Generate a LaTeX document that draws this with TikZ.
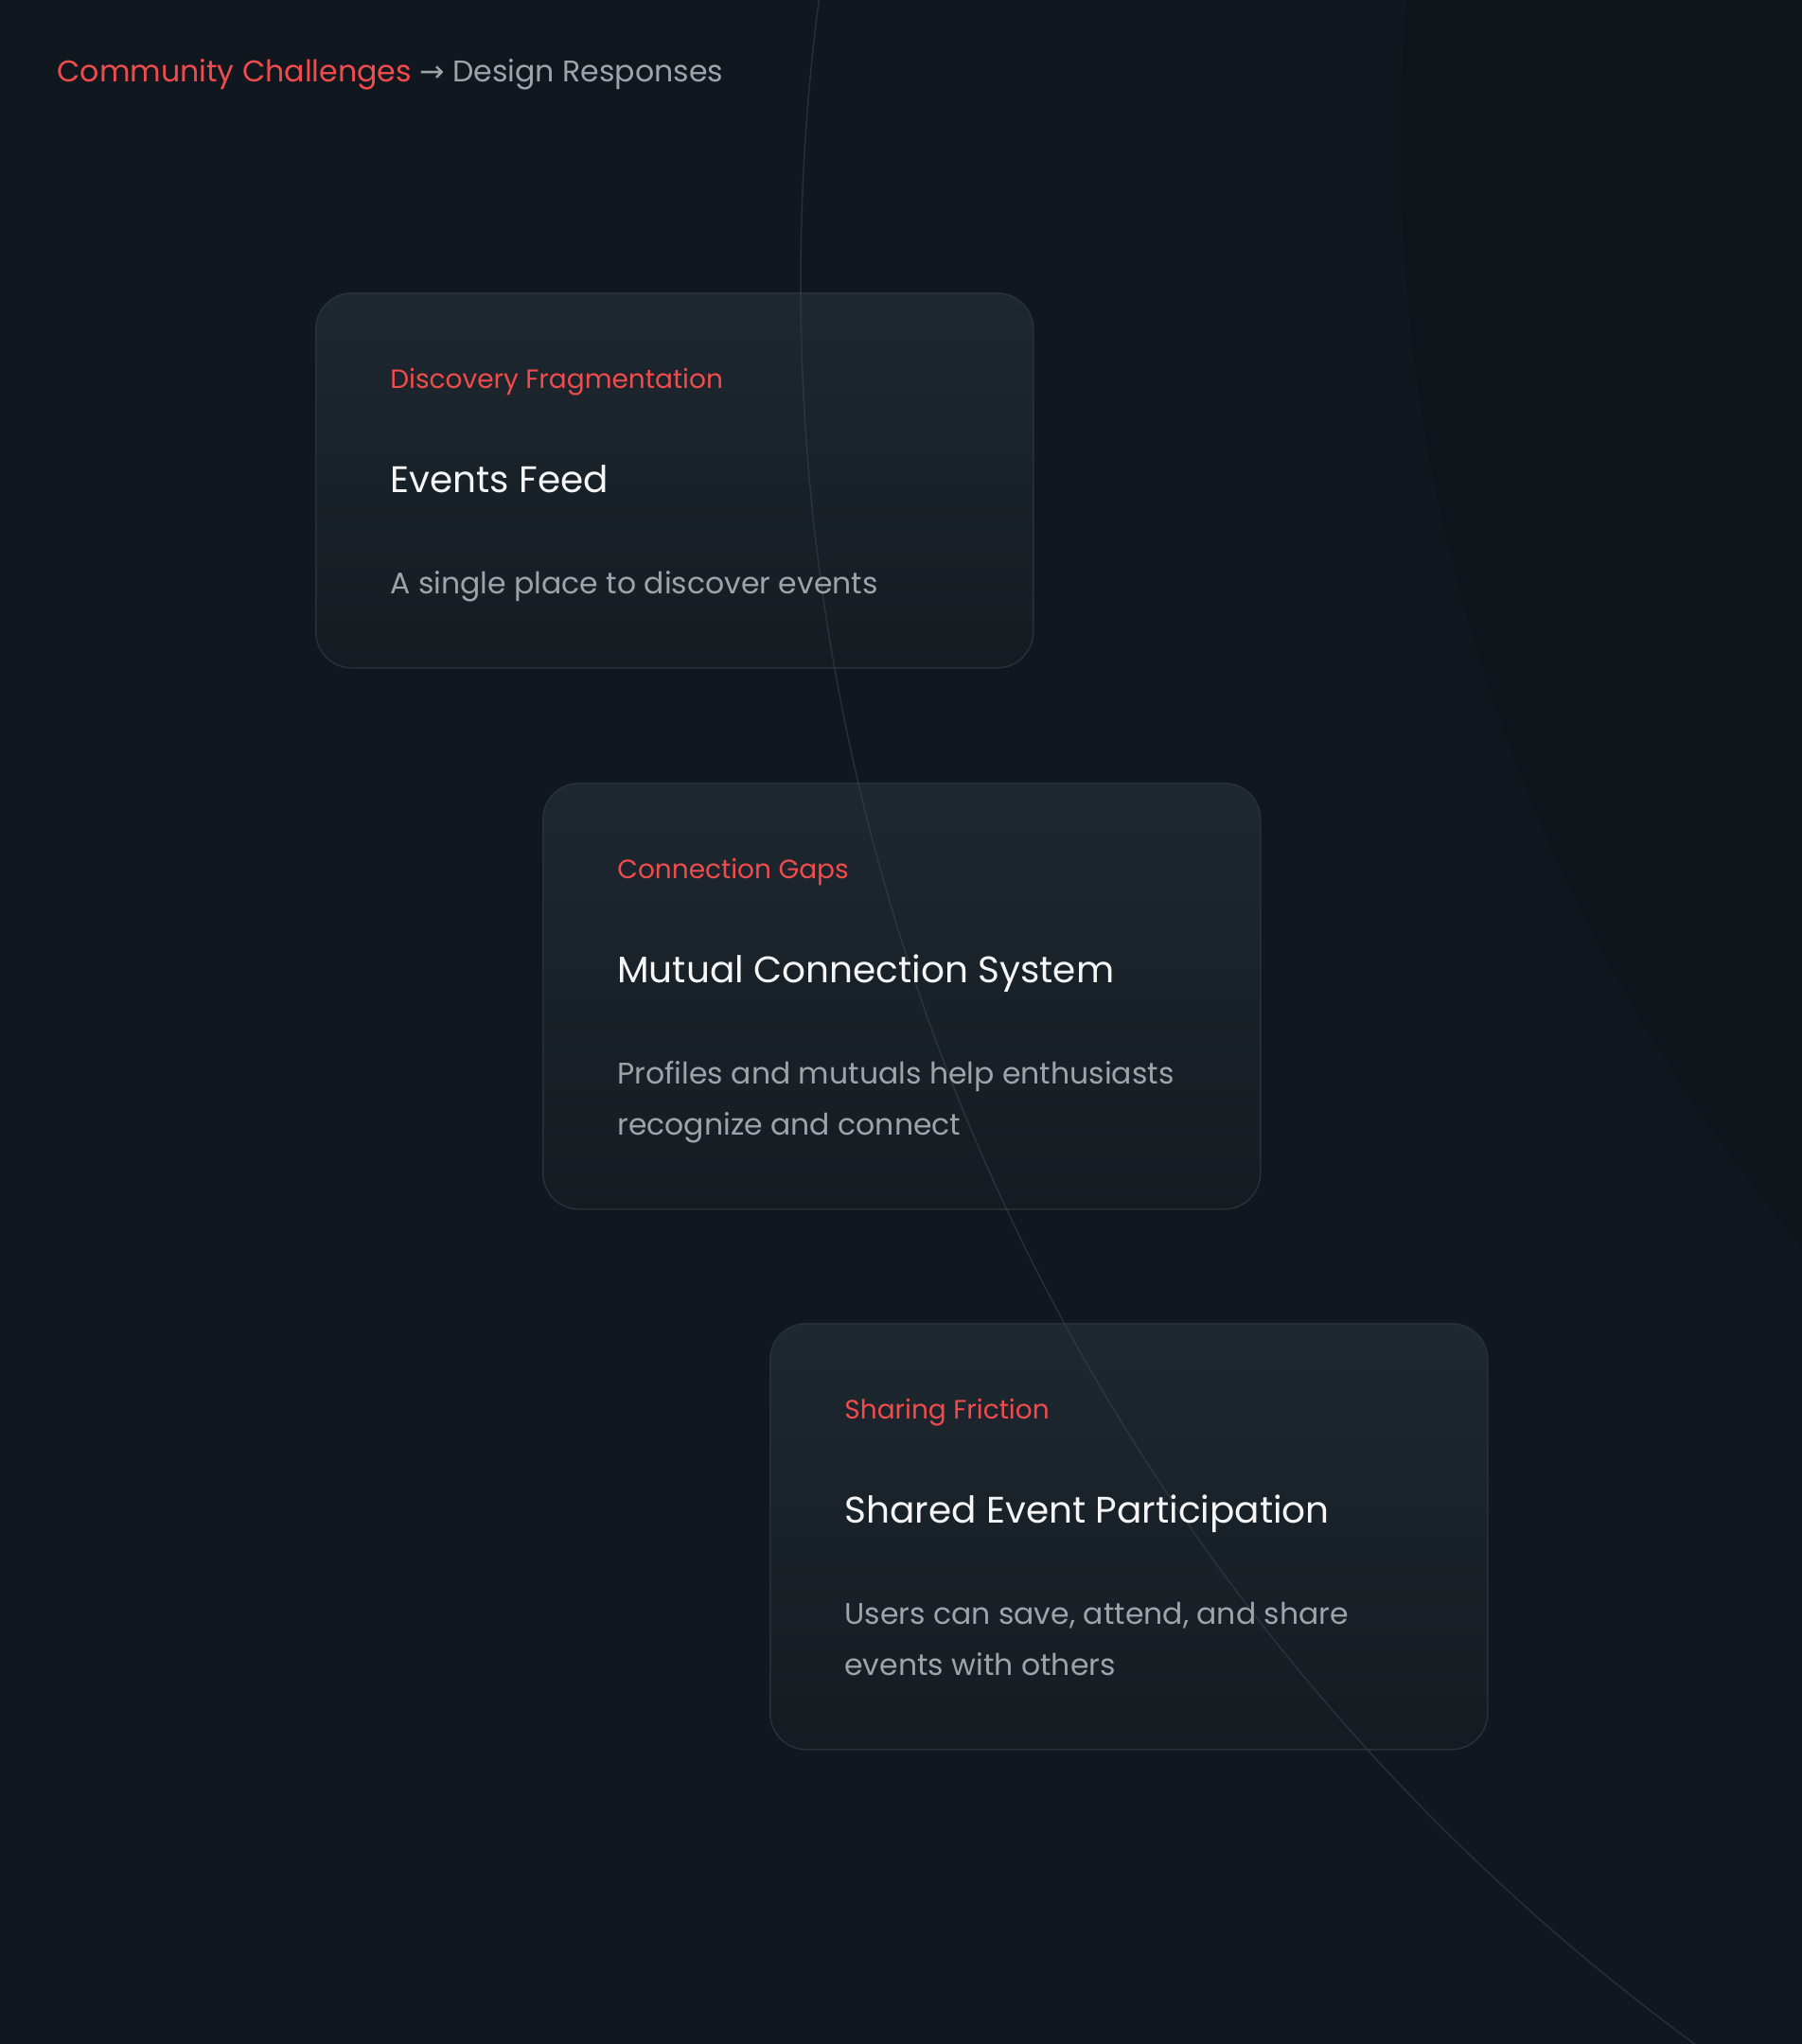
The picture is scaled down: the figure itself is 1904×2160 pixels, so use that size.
\documentclass[tikz,border=0pt]{standalone}
\usepackage{fontspec}
\setmainfont{Poppins}
\newfontfamily\arrowfont{DejaVu Sans}
\usetikzlibrary{positioning}

\definecolor{pagebg}{RGB}{17,23,30}
\definecolor{glowbg}{RGB}{31,37,42}
\definecolor{shadebg}{RGB}{15,20,26}
\definecolor{cardtop}{RGB}{30,40,48}
\definecolor{cardbot}{RGB}{21,27,33}
\definecolor{cardline}{RGB}{40,48,56}
\definecolor{arcline}{RGB}{62,70,78}
\definecolor{tagred}{RGB}{240,76,76}
\definecolor{headwhite}{RGB}{246,246,246}
\definecolor{bodygray}{RGB}{160,164,168}

\begin{document}
\begin{tikzpicture}[x=0.5pt, y=-0.5pt,
    cardbox/.style={draw=cardline, line width=0.75pt, rounded corners=19pt,
        top color=cardtop, bottom color=cardbot, anchor=north west,
        inner sep=0pt, minimum width=379pt},
    tagtext/.style={anchor=base west, inner sep=0pt, text=tagred,
        font=\fontsize{14}{17}\selectfont},
    headtext/.style={anchor=base west, inner sep=0pt, text=headwhite,
        font=\fontsize{19.5}{24}\selectfont},
    bodytext/.style={anchor=base west, inner sep=0pt, text=bodygray, align=left,
        font=\fontsize{15.75}{27}\selectfont},
]
    % Background
    \useasboundingbox (0,0) rectangle (1904,2160);
    \fill [pagebg] (0,0) rectangle (1904,2160);

    % Soft glow band and the darker disc on the right
    \begin{scope}
        \clip (0,0) rectangle (1904,2160);
        \begin{scope}
            \clip (3151,299) circle [radius=2247];
            \shade [top color=pagebg, middle color=glowbg, bottom color=pagebg] (850,100) rectangle (1904,2000);
        \end{scope}
        \fill [shadebg] (3300,150) circle [radius=1820];
    \end{scope}

    % Heading
    \node (heading) at (60,86) [anchor=base west, inner sep=0pt, font=\fontsize{15.8}{20}\selectfont]
        {\textcolor{tagred}{Community Challenges} \textcolor{bodygray}{{\arrowfont →} Design Responses}};

    % Cards
    \node (feedcard)   at (333,309)  [cardbox, minimum height=198pt] {};
    \node (mutualcard) at (573,827)  [cardbox, minimum height=225pt] {};
    \node (sharecard)  at (813,1398) [cardbox, minimum height=225pt] {};

    % Thin arc running behind the cards
    \begin{scope}
        \clip (0,0) rectangle (1904,2160);
        \draw [arcline, line width=0.75pt, draw opacity=0.5] (3151,299) circle [radius=2305];
    \end{scope}

    % Card 1
    \node (feedtag)  at (412,410) [tagtext]  {Discovery Fragmentation};
    \node (feedhead) at (412,520) [headtext] {Events Feed};
    \node (feedbody) at (412,627) [bodytext] {A single place to discover events};

    % Card 2 (base sits on the last line)
    \node (mutualtag)  at (652,928)  [tagtext]  {Connection Gaps};
    \node (mutualhead) at (652,1038) [headtext] {Mutual Connection System};
    \node (mutualbody) at (652,1199) [bodytext] {Profiles and mutuals help enthusiasts\\recognize and connect};

    % Card 3
    \node (sharetag)  at (892,1499) [tagtext]  {Sharing Friction};
    \node (sharehead) at (892,1609) [headtext] {Shared Event Participation};
    \node (sharebody) at (892,1770) [bodytext] {Users can save, attend, and share\\events with others};
\end{tikzpicture}
\end{document}
